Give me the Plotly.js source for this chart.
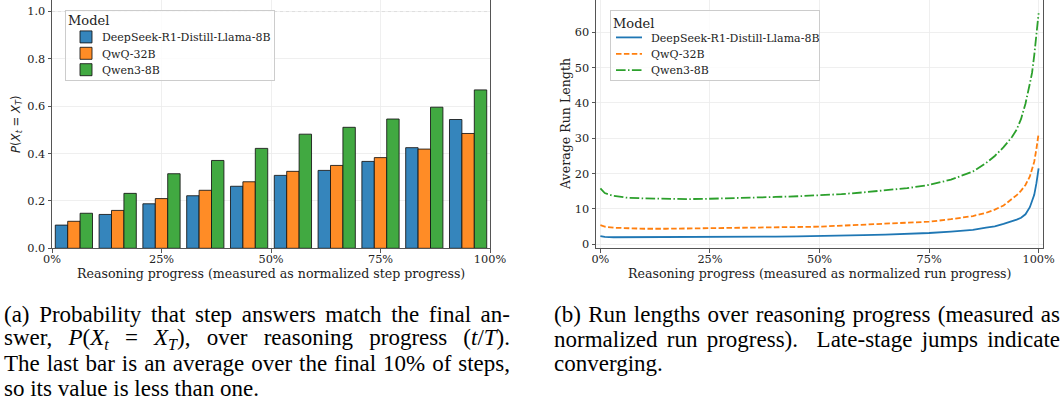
<!DOCTYPE html>
<html>
<head>
<meta charset="utf-8">
<script src="https://cdn.plot.ly/plotly-3.0.1.min.js"></script>
<style>
  html, body { margin: 0; padding: 0; background: #ffffff; }
  #chart { width: 1060px; height: 409px; }
</style>
</head>
<body>
<div id="chart"></div>
<script>
// ---------- DATA ----------
const models = ['DeepSeek-R1-Distill-Llama-8B', 'QwQ-32B', 'Qwen3-8B'];

const stepBins = [0.05, 0.15, 0.25, 0.35, 0.45, 0.55, 0.65, 0.75, 0.85, 0.95];
const probDeepSeek = [0.098, 0.143, 0.188, 0.222, 0.262, 0.308, 0.329, 0.367, 0.425, 0.544];
const probQwQ      = [0.114, 0.160, 0.210, 0.245, 0.281, 0.325, 0.350, 0.383, 0.419, 0.485];
const probQwen3    = [0.148, 0.232, 0.315, 0.371, 0.422, 0.482, 0.511, 0.546, 0.596, 0.669];

const runProgress = [0, 0.01, 0.03, 0.06, 0.1, 0.15, 0.2, 0.25, 0.3, 0.35, 0.4, 0.45, 0.5, 0.55, 0.6, 0.65,
                     0.7, 0.75, 0.8, 0.85, 0.88, 0.9, 0.92, 0.94, 0.95, 0.96, 0.97, 0.98, 0.985, 0.99, 0.995, 1.0];
const runDeepSeek = [2.3, 2.1, 2.0, 2.0, 2.0, 2.0, 2.05, 2.1, 2.1, 2.15, 2.2, 2.25, 2.3, 2.45, 2.6, 2.75,
                     2.95, 3.2, 3.6, 4.1, 4.7, 5.1, 5.8, 6.5, 7.0, 7.5, 8.5, 10.5, 12.0, 14.0, 17.3, 21.5];
const runQwQ      = [5.4, 5.0, 4.7, 4.5, 4.4, 4.4, 4.45, 4.5, 4.6, 4.7, 4.8, 4.9, 5.0, 5.3, 5.6, 5.8,
                     6.1, 6.4, 7.1, 8.0, 8.9, 9.8, 11.0, 12.8, 13.9, 15.2, 16.8, 19.2, 21.0, 23.4, 27.0, 31.4];
const runQwen3    = [15.8, 14.5, 13.7, 13.2, 13.0, 12.8, 12.8, 12.9, 13.0, 13.2, 13.4, 13.6, 13.8, 14.2, 14.7, 15.2,
                     15.9, 16.8, 18.3, 20.6, 23.0, 25.0, 27.5, 30.5, 32.5, 35.5, 39.8, 45.5, 48.5, 53.5, 58.8, 65.4];

const pctTickVals = [0, 0.25, 0.5, 0.75, 1.0];
const pctTickText = ['0%', '25%', '50%', '75%', '100%'];
const probTickVals = [0, 0.2, 0.4, 0.6, 0.8, 1.0];
const probTickText = ['0.0', '0.2', '0.4', '0.6', '0.8', '1.0'];
const runTickVals = [0, 10, 20, 30, 40, 50, 60];

// caption lines: [text, justified?]
const captionA = [
  ['(a) Probability that step answers match the final an-', true],
  ['swer, <i>P</i>(<i>X</i><sub><i>t</i></sub> = <i>X</i><sub><i>T</i></sub>), over reasoning progress (<i>t</i>/<i>T</i>).', true],
  ['The last bar is an average over the final 10% of steps,', true],
  ['so its value is less than one.', false]
];
const captionB = [
  ['(b) Run lengths over reasoning progress (measured as', true],
  ['normalized run progress).  Late-stage jumps indicate', true],
  ['converging.', false]
];

// ---------- STYLE ----------
const W = 1060, H = 409;
const px = v => v / W;
const py = v => 1 - v / H;
const barColors = ['rgb(53,133,188)', 'rgb(255,140,38)', 'rgb(65,169,65)'];
const lineColors = ['#1f77b4', '#ff7f0e', '#2ca02c'];
const lineDash = ['solid', '5.5px,2.4px', '9.6px,2.4px,1.5px,2.4px'];
const serif = 'DejaVu Serif';
const spine = '#555555';
const grid = '#ebebeb';
const captionWidth = 506;

const probSeries = [probDeepSeek, probQwQ, probQwen3];
const runSeries = [runDeepSeek, runQwQ, runQwen3];

const traces = [];
models.forEach((m, i) => {
  traces.push({
    type: 'bar', x: stepBins, y: probSeries[i], name: m,
    xaxis: 'x', yaxis: 'y', legend: 'legend',
    marker: { color: barColors[i], line: { color: 'rgba(20,20,20,0.85)', width: 1 } },
    hoverinfo: 'skip'
  });
});
models.forEach((m, i) => {
  traces.push({
    type: 'scatter', mode: 'lines', x: runProgress, y: runSeries[i], name: m,
    xaxis: 'x2', yaxis: 'y2', legend: 'legend2',
    line: { color: lineColors[i], width: 1.8, dash: lineDash[i] },
    hoverinfo: 'skip'
  });
});

const axisCommon = {
  showline: true, linecolor: spine, linewidth: 1,
  ticks: 'outside', ticklen: 3.5, tickwidth: 1, tickcolor: spine,
  showgrid: true, gridcolor: grid, gridwidth: 0.8,
  zeroline: false, automargin: false,
  tickfont: { family: serif, size: 11.3, color: '#222' }
};
const xAxisExtra = { ticklabelstandoff: -3 };

const legendCommon = {
  xanchor: 'left', yanchor: 'top',
  bgcolor: 'rgba(255,255,255,0.8)', bordercolor: '#cccccc', borderwidth: 1,
  font: { family: serif, size: 11, color: '#222' },
  title: { text: 'Model', font: { family: serif, size: 13, color: '#222' } },
  tracegroupgap: 0, itemwidth: 30
};

const labFont = { family: serif, size: 12.6, color: '#222' };
const annotations = [
  { text: 'Reasoning progress (measured as normalized step progress)', x: px(271), y: py(273.5),
    xref: 'paper', yref: 'paper', showarrow: false, xanchor: 'center', yanchor: 'middle', font: labFont },
  { text: 'Reasoning progress (measured as normalized run progress)', x: px(819.5), y: py(273.5),
    xref: 'paper', yref: 'paper', showarrow: false, xanchor: 'center', yanchor: 'middle', font: labFont },
  { text: '<i>P</i>(<i>X</i><sub><i>t</i></sub> = <i>X</i><sub><i>T</i></sub>)', x: px(16), y: py(124),
    xref: 'paper', yref: 'paper', showarrow: false, xanchor: 'center', yanchor: 'middle', textangle: -90,
    font: { family: 'DejaVu Sans', size: 11.7, color: '#222' } },
  { text: 'Average Run Length', x: px(565), y: py(124),
    xref: 'paper', yref: 'paper', showarrow: false, xanchor: 'center', yanchor: 'middle', textangle: -90,
    font: labFont }
];
const nFixed = annotations.length;
const capFont = { family: 'Liberation Serif', size: 23, color: '#000' };
const capMeta = [];
captionA.forEach(([t, j], k) => {
  capMeta.push(j);
  annotations.push({
    text: t, x: px(2), y: py(314.5 + 24.5 * k), xref: 'paper', yref: 'paper', showarrow: false,
    xanchor: 'left', yanchor: 'middle', align: 'left', font: capFont
  });
});
captionB.forEach(([t, j], k) => {
  capMeta.push(j);
  annotations.push({
    text: t, x: px(552), y: py(314.5 + 24.5 * k), xref: 'paper', yref: 'paper', showarrow: false,
    xanchor: 'left', yanchor: 'middle', align: 'left', font: capFont
  });
});

const layout = {
  width: W, height: H,
  margin: { l: 0, r: 0, t: 0, b: 0, pad: 0 },
  paper_bgcolor: '#ffffff', plot_bgcolor: '#ffffff',
  showlegend: true,
  barmode: 'group', bargap: 0.15, bargroupgap: 0,
  xaxis: Object.assign({}, axisCommon, xAxisExtra, {
    domain: [px(52), px(490)], range: [0, 1], tickvals: pctTickVals, ticktext: pctTickText, anchor: 'y'
  }),
  yaxis: Object.assign({}, axisCommon, {
    domain: [py(248.3), 1], range: [0, 1.0487], tickvals: probTickVals, ticktext: probTickText,
    anchor: 'x', mirror: true
  }),
  xaxis2: Object.assign({}, axisCommon, xAxisExtra, {
    domain: [px(596), px(1043)], range: [-0.01, 1.01], tickvals: pctTickVals, ticktext: pctTickText, anchor: 'y2'
  }),
  yaxis2: Object.assign({}, axisCommon, {
    domain: [py(248.3), 1], range: [-1.13, 69.15], tickvals: runTickVals, anchor: 'x2', mirror: true
  }),
  legend: Object.assign({}, legendCommon, { x: px(65), y: py(9.5) }),
  legend2: Object.assign({}, legendCommon, { x: px(610), y: py(10) }),
  shapes: [{
    type: 'line', xref: 'x', yref: 'y', x0: 0, x1: 1, y0: 1.0, y1: 1.0, layer: 'below',
    line: { color: '#999999', width: 0.8, dash: 'dot' }
  }],
  annotations: annotations
};

// tighten the legend rows to the reference's spacing (matplotlib-style compact legend)
function compactLegend(gd, cls) {
  const leg = gd.querySelector('g.' + cls);
  if (!leg) return;
  const rowShift = [-5, -7.6, -10.2];
  leg.querySelectorAll('g.traces').forEach((g, i) => {
    const tr = g.getAttribute('transform') || '';
    const m = tr.match(/translate\(\s*([-\d.e]+)[ ,]+([-\d.e]+)\s*\)/);
    if (m) g.setAttribute('transform', 'translate(' + m[1] + ',' + (parseFloat(m[2]) + (rowShift[i] || 0)) + ')');
    const t = g.querySelector('.legendtext');
    if (t) t.setAttribute('x', parseFloat(t.getAttribute('x')) - 4);
  });
  leg.querySelectorAll('.legendlines path').forEach(p => p.setAttribute('d', 'M5,0h26'));
  const ttl = leg.querySelector('.legendtitletext');
  if (ttl) ttl.setAttribute('y', parseFloat(ttl.getAttribute('y')) - 2);
  leg.querySelectorAll('rect.bg').forEach(r => {
    r.setAttribute('height', parseFloat(r.getAttribute('height')) - 15);
    r.setAttribute('width', parseFloat(r.getAttribute('width')) - 6);
  });
}

Plotly.newPlot('chart', traces, layout, { staticPlot: true, displayModeBar: false }).then(gd => {
  // justify caption lines like the typeset reference
  const texts = gd.querySelectorAll('.annotation-text');
  texts.forEach((el, idx) => {
    const k = idx - nFixed;
    if (k < 0) return;
    const w0 = el.getComputedTextLength();
    const nSp = (el.textContent.match(/ /g) || []).length;
    if (capMeta[k] && nSp > 0 && w0 < captionWidth) {
      el.style.wordSpacing = ((captionWidth - w0) / nSp).toFixed(2) + 'px';
    }
  });
  try { compactLegend(gd, 'legend'); compactLegend(gd, 'legend2'); } catch (e) {}
});
</script>
</body>
</html>
